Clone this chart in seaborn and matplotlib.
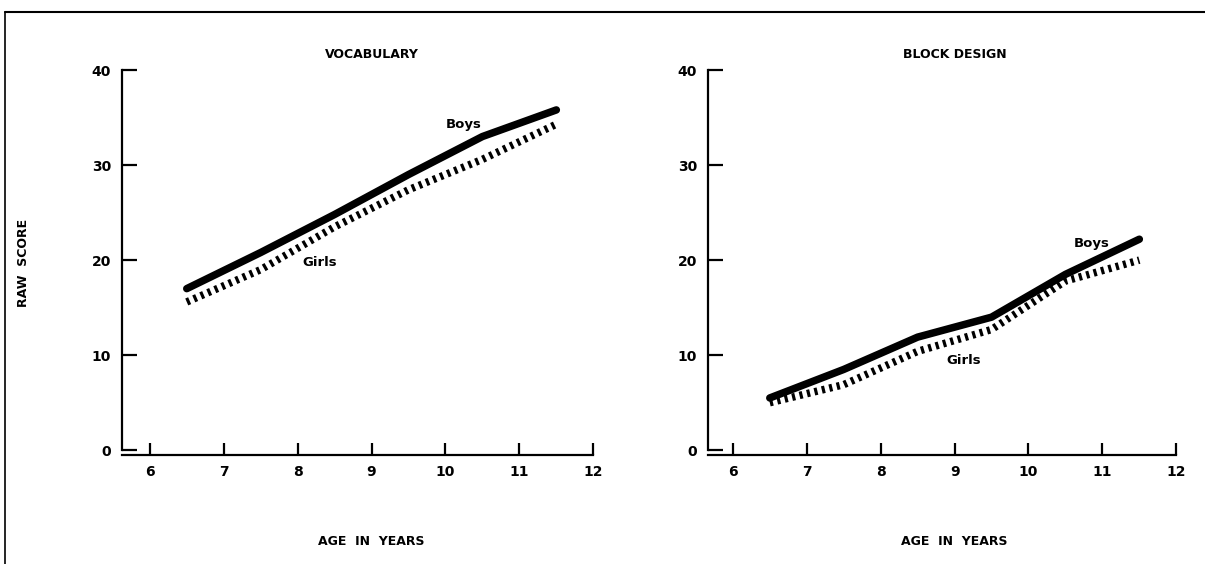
import matplotlib
matplotlib.use("Agg")
import matplotlib.pyplot as plt
from matplotlib.lines import Line2D
import pandas as pd
import seaborn as sns

# Mean raw scores by age (midpoints of age bands)
ages = [6.5, 7.5, 8.5, 9.5, 10.5, 11.5]
vocab_boys = [17.0, 20.8, 24.8, 29.0, 33.0, 35.8]
vocab_girls = [15.6, 19.0, 23.5, 27.4, 30.6, 34.3]
block_boys = [5.5, 8.5, 11.9, 14.0, 18.5, 22.2]
block_girls = [5.0, 6.9, 10.4, 12.7, 17.8, 20.0]

x_ticks = [6, 7, 8, 9, 10, 11, 12]
y_ticks = [0, 10, 20, 30, 40]

sns.set_style("white")
plt.rcParams["font.family"] = ["DejaVu Sans"]
plt.rcParams["font.weight"] = "bold"
plt.rcParams["text.color"] = "black"
plt.rcParams["axes.labelcolor"] = "black"

fig = plt.figure(figsize=(12.05, 5.64), dpi=100)
ax1 = fig.add_axes([122 / 1205, 1 - 455 / 564, 475 / 1205, 385 / 564])
ax2 = fig.add_axes([708 / 1205, 1 - 455 / 564, 472 / 1205, 385 / 564])

panels = [
    (ax1, "VOCABULARY", vocab_boys, vocab_girls, 5.624, (10.25, 34.3), (8.3, 19.8)),
    (ax2, "BLOCK DESIGN", block_boys, block_girls, 5.664, (10.85, 21.7), (9.12, 9.4)),
]

for ax, title, boys, girls, xmin, boys_pos, girls_pos in panels:
    df = pd.DataFrame({"age": ages, "Boys": boys, "Girls": girls})
    sns.lineplot(data=df, x="age", y="Girls", ax=ax, color="black", lw=5.4,
                 ls=(0, (0.42, 0.6)), dash_capstyle="butt")
    sns.lineplot(data=df, x="age", y="Boys", ax=ax, color="black", lw=5.4,
                 solid_capstyle="round")

    ax.set_xlim(xmin, 12.05)
    ax.set_ylim(-0.5, 40)
    ax.set_xticks(x_ticks)
    ax.set_yticks(y_ticks)
    ax.tick_params(axis="x", bottom=True, direction="in", length=9, width=1.6,
                   pad=7, labelsize=10, colors="black")
    ax.tick_params(axis="y", left=True, direction="in", length=11, width=1.6,
                   pad=8, labelsize=10, colors="black")
    for lab in ax.get_xticklabels() + ax.get_yticklabels():
        lab.set_fontweight("bold")

    sns.despine(ax=ax, top=True, right=True)
    ax.spines["left"].set_linewidth(1.6)
    ax.spines["bottom"].set_linewidth(1.6)
    ax.spines["left"].set_color("black")
    ax.spines["bottom"].set_color("black")
    ax.spines["left"].set_bounds(0, 40)
    ax.spines["bottom"].set_bounds(xmin, 12)

    ax.text(9, 41.6, title, ha="center", va="center", fontsize=9,
            fontweight="bold", clip_on=False)
    ax.text(*boys_pos, "Boys", ha="center", va="center", fontsize=9.5,
            fontweight="bold")
    ax.text(*girls_pos, "Girls", ha="center", va="center", fontsize=9.5,
            fontweight="bold")

    ax.set_xlabel("AGE  IN  YEARS", fontsize=9, fontweight="bold")
    ax.xaxis.set_label_coords((9 - xmin) / (12.05 - xmin), -0.208)
    ax.set_ylabel("")

ax1.set_ylabel("RAW  SCORE", fontsize=9, fontweight="bold")
ax1.yaxis.set_label_coords(-0.194, 0.5)

# scanned page border
fig.add_artist(Line2D([5 / 1205, 1], [1 - 12 / 564, 1 - 12 / 564],
                      transform=fig.transFigure, color="black", lw=1.5))
fig.add_artist(Line2D([5 / 1205, 5 / 1205], [0, 1 - 12 / 564],
                      transform=fig.transFigure, color="black", lw=1.2))

fig.savefig("out.png", dpi=100, facecolor="white")
